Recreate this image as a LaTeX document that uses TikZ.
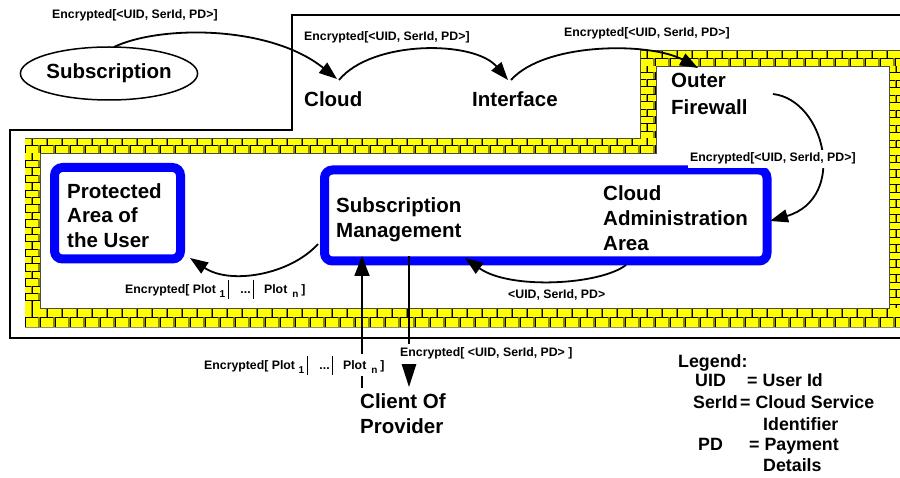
\documentclass[tikz,border=0pt]{standalone}
\usepackage{fontspec}
\setmainfont{Liberation Sans}
\usetikzlibrary{arrows.meta,shapes.geometric}

\definecolor{brickyellow}{RGB}{255,255,0}
\definecolor{brickolive}{RGB}{140,140,0}
\definecolor{areablue}{RGB}{0,0,255}

\tikzset{
  big/.style={font=\fontsize{20.5}{25}\selectfont\bfseries, inner sep=0pt, align=left},
  small/.style={font=\fontsize{12.3}{14}\selectfont\bfseries, inner sep=0pt},
  legendtxt/.style={font=\fontsize{17.8}{21}\selectfont\bfseries, inner sep=0pt},
  flow/.style={line width=1.8pt, -{Triangle[length=18pt,width=13pt]}},
  straightflow/.style={line width=1.8pt, -{Triangle[length=20pt,width=15pt]}},
  area/.style={draw=areablue, line width=9pt, rounded corners=8pt, inner sep=0pt},
  border/.style={line width=2pt, black},
  mortar/.style={line width=0.6pt, black},
  brickshade/.style={line width=1.4pt, brickolive},
  wallline/.style={line width=0.8pt, black!70},
  cover/.style={fill=white, inner xsep=2pt, inner ysep=3pt},
}

% one straight run of a brick wall: x1 y1 x2 y2 rows
\newcommand{\brickrun}[5]{%
  \begin{scope}
    \clip (#1,#2) rectangle (#3,#4);
    \fill[brickyellow] (#1,#2) rectangle (#3,#4);
    \pgfmathsetmacro{\bh}{(#4-#2)/#5}
    \pgfmathtruncatemacro{\nj}{(#3-#1)/15+1}
    \foreach \r in {1,...,#5}{
      \pgfmathsetmacro{\ya}{#2+(\r-1)*\bh}
      \pgfmathsetmacro{\yb}{#2+\r*\bh}
      \pgfmathsetmacro{\sh}{mod(\r,2)*7.5}
      \foreach \k in {0,...,\nj}{
        \draw[brickshade] ({#1+\sh+15*\k-1.2},\ya) -- ++(0,\bh);
        \draw[mortar] ({#1+\sh+15*\k},\ya) -- ++(0,\bh);
      }
      \draw[mortar] (#1,\yb) -- (#3,\yb);
    }
  \end{scope}}

% Encrypted list of plots with separators
\newcommand{\plotlist}{Encrypted[ Plot \raisebox{-4pt}{\fontsize{10}{10}\selectfont 1}\hspace{2.5pt}\rule[-5pt]{0.9pt}{19pt}\hspace{12pt}...\hspace{2.5pt}\rule[-5pt]{0.9pt}{19pt}\hspace{10pt}Plot\hspace{5pt}\raisebox{-4pt}{\fontsize{10}{10}\selectfont n}\hspace{3pt}]}

\begin{document}
\begin{tikzpicture}[x=1pt,y=-1pt]
  \fill[white] (0,0) rectangle (900,478);
  \useasboundingbox (0,0) rectangle (900,478);
  \clip (0,0) rectangle (900,478);

  % firewall brick wall
  \brickrun{25}{153}{40}{308}{21}
  \brickrun{640}{50}{656}{153}{14}
  \brickrun{889}{50}{905}{327}{37}
  \brickrun{25}{138}{656}{153}{2}
  \brickrun{640}{50}{905}{66}{2}
  \brickrun{25}{308}{905}{327}{2}
  \draw[wallline] (25,138) -- (640,138) -- (640,50) -- (905,50)
                  (905,327) -- (25,327) -- cycle;
  \draw[wallline] (40,153) -- (656,153) -- (656,66) -- (889,66) -- (889,308) -- (40,308) -- cycle;

  % provider boundary
  \draw[border] (905,15) -- (292,15) -- (292,130) -- (10,130) -- (10,338) -- (905,338);

  % protected areas
  \node[area, minimum width=126pt, minimum height=91.5pt] (userarea) at (117.5,213.25) {};
  \node[area, minimum width=442.5pt, minimum height=91pt] (adminarea) at (545.75,215.5) {};

  % subscription
  \node[draw, ellipse, line width=1.5pt, minimum width=174pt, minimum height=53pt,
        big, align=center] (subscription) at (109,73.5) {Subscription};

  % texts
  \node[big, anchor=base west] (cloud) at (304,107) {Cloud};
  \node[big, anchor=base west] (interface) at (472,107) {Interface};
  \node[big, anchor=north west, font=\fontsize{20.5}{26.7}\selectfont\bfseries] (firewall) at (671,73.3) {Outer\\Firewall};
  \node[big, anchor=north west, font=\fontsize{20.5}{24.5}\selectfont\bfseries] (usertext) at (67,183.3) {Protected\\Area of\\the User};
  \node[big, anchor=north west] (subman) at (336,197) {Subscription\\Management};
  \node[big, anchor=north west] (admintext) at (603,185.3) {Cloud\\Administration\\Area};
  \node[big, anchor=north west] (client) at (360,393.3) {Client Of\\Provider};

  % connector end points
  \coordinate (s1) at (114,47);
  \coordinate (c1) at (337,79);
  \coordinate (c2) at (339,80);
  \coordinate (i1) at (508,80);
  \coordinate (i2) at (511,80);
  \coordinate (f1) at (698,68);
  \coordinate (f2) at (773,94);
  \coordinate (a1) at (770,221);
  \coordinate (a2) at (626,265);
  \coordinate (m1) at (465,258);
  \coordinate (m2) at (318,244);
  \coordinate (u1) at (190,258);
  \coordinate (p1) at (362,388);
  \coordinate (m3) at (362,256);
  \coordinate (m4) at (409,256);
  \coordinate (p2) at (409,387);

  % flows
  \draw[flow] (s1) .. controls (160,25) and (270,25) .. (c1);
  \draw[flow] (c2) .. controls (372,40) and (474,40) .. (i1);
  \draw[flow] (i2) .. controls (545,42) and (650,42) .. (f1);
  \draw[flow] (f2) .. controls (825,100) and (848,198) .. (a1);
  \draw[flow] (a2) .. controls (600,285) and (510,290) .. (m1);
  \draw[flow] (m2) .. controls (290,275) and (230,285) .. (u1);
  \draw[straightflow] (p1) -- (m3);
  \draw[line width=1.8pt, -{Triangle[length=24pt,width=15pt]}] (m4) -- (p2);

  % flow labels
  \node[small, anchor=base west] (l1) at (52,19) {Encrypted[<UID, SerId, PD>]};
  \node[small, anchor=base west] (l2) at (304,41) {Encrypted[<UID, SerId, PD>]};
  \node[small, anchor=base west] (l3) at (564,37) {Encrypted[<UID, SerId, PD>]};
  \node[small, cover, anchor=base west] (l4) at (688,162) {Encrypted[<UID, SerId, PD>]};
  \node[small, anchor=base west] (l5) at (508,299) {<UID, SerId, PD>};
  \node[small, anchor=base west] (l6) at (125,294) {\plotlist};
  \node[small, cover, inner ysep=1.5pt, anchor=base west] (l7) at (202,370) {\plotlist};
  \node[small, cover, inner ysep=4pt, anchor=base west] (l8) at (398,357) {Encrypted[ <UID, SerId, PD> ]};

  % legend
  \node[legendtxt, anchor=base west] (lg) at (678,367.7) {Legend:};
  \node[legendtxt, anchor=base west] (lg1) at (695,386.7) {UID};
  \node[legendtxt, anchor=base west] (lg1d) at (747,386.7) {= User Id};
  \node[legendtxt, anchor=base west] (lg2) at (693,408) {SerId};
  \node[legendtxt, anchor=base west] (lg2d) at (740,408) {= Cloud Service};
  \node[legendtxt, anchor=base west] (lg2e) at (763,430.7) {Identifier};
  \node[legendtxt, anchor=base west] (lg3) at (698,450.7) {PD};
  \node[legendtxt, anchor=base west] (lg3d) at (749,450.7) {= Payment};
  \node[legendtxt, anchor=base west] (lg3e) at (763,471.7) {Details};
\end{tikzpicture}
\end{document}
